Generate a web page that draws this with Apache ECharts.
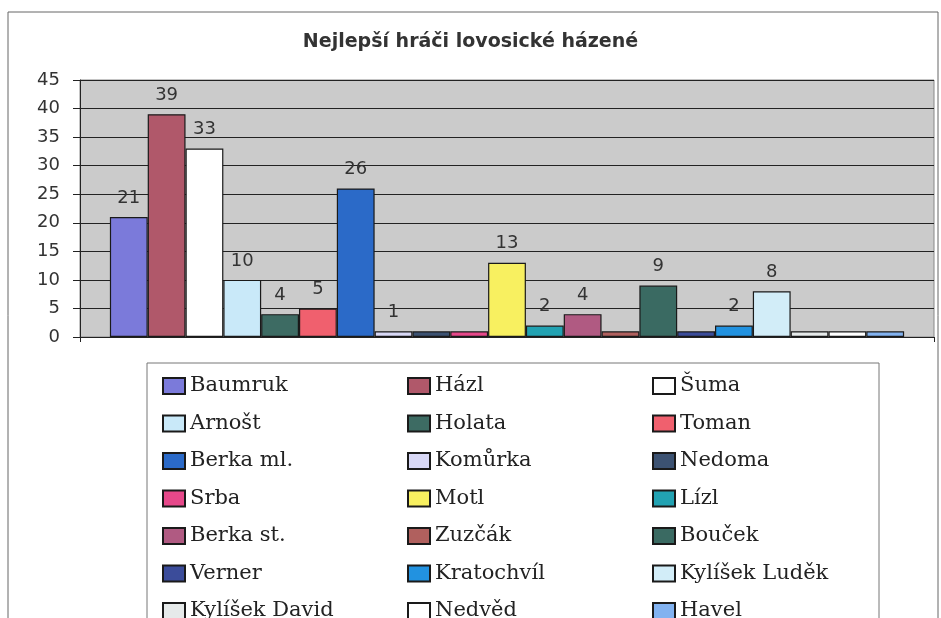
<!DOCTYPE html>
<html>
<head>
<meta charset="utf-8">
<script src="https://cdn.jsdelivr.net/npm/echarts@6/dist/echarts.min.js"></script>
<style>
  html, body { margin: 0; padding: 0; background: #fff; }
  #chart { width: 941px; height: 618px; }
</style>
</head>
<body>
<div id="chart"></div>
<script>
const players = ['Baumruk', 'Házl', 'Šuma', 'Arnošt', 'Holata', 'Toman', 'Berka ml.',
  'Komůrka', 'Nedoma', 'Srba', 'Motl', 'Lízl', 'Berka st.', 'Zuzčák', 'Bouček',
  'Verner', 'Kratochvíl', 'Kylíšek Luděk', 'Kylíšek David', 'Nedvěd', 'Havel'];
const goals = [21, 39, 33, 10, 4, 5, 26, 1, 1, 1, 13, 2, 4, 1, 9, 1, 2, 8, 1, 1, 1];
// only these bars carry a value label in the original
const labeled = ['Baumruk', 'Házl', 'Šuma', 'Arnošt', 'Holata', 'Toman', 'Berka ml.',
  'Komůrka', 'Motl', 'Lízl', 'Berka st.', 'Bouček', 'Kratochvíl', 'Kylíšek Luděk'];
const yTicks = [0, 5, 10, 15, 20, 25, 30, 35, 40, 45];

const colors = ['#7b7ada', '#b0586a', '#ffffff', '#c9e9f9', '#3d6b63', '#f0606e', '#2b6ac8',
  '#d8d8f6', '#3c5272', '#e6488a', '#f8f060', '#22a2b2', '#b05a82', '#b0605e', '#3a6a62',
  '#3b4c9a', '#2292e0', '#d2edf8', '#e6eaea', '#ffffff', '#82b2f0'];

const chart = echarts.init(document.getElementById('chart'));

const series = players.map((name, i) => ({
  name: name,
  type: 'bar',
  data: [goals[i]],
  barGap: '0%',
  barCategoryGap: '7%',
  itemStyle: { color: colors[i], borderColor: '#1a1a1a', borderWidth: 1.2 },
  label: {
    show: labeled.includes(name),
    position: 'top',
    distance: 10,
    fontSize: 18,
    fontFamily: 'DejaVu Sans',
    color: '#333'
  },
  emphasis: { disabled: true }
}));

// legend laid out in three columns, as in the original
const legendCol = (col, left) => ({
  orient: 'vertical',
  left: left,
  top: 370,
  height: 300,
  itemGap: 15.5,
  itemWidth: 22,
  itemHeight: 16,
  icon: 'rect',
  selectedMode: false,
  data: players.filter((p, i) => i % 3 === col),
  textStyle: { fontFamily: 'DejaVu Serif', fontSize: 21, lineHeight: 22, color: '#222' }
});

chart.setOption({
  backgroundColor: '#fff',
  animation: false,
  color: colors,
  title: {
    text: 'Nejlepší hráči lovosické házené',
    left: 'center',
    top: 28,
    textStyle: { fontFamily: 'DejaVu Sans', fontSize: 19, fontWeight: 'bold', color: '#333' }
  },
  legend: [legendCol(0, 157), legendCol(1, 402), legendCol(2, 647)],
  grid: {
    left: 80, right: 7, top: 80, bottom: 281,
    show: true,
    backgroundColor: '#cbcbcb',
    borderColor: '#888',
    borderWidth: 1
  },
  xAxis: {
    type: 'category',
    data: [''],
    axisLine: { lineStyle: { color: '#222' } },
    axisTick: { show: true, length: 5, lineStyle: { color: '#222' } },
    axisLabel: { show: false }
  },
  yAxis: {
    type: 'value',
    min: yTicks[0],
    max: yTicks[yTicks.length - 1],
    interval: 5,
    axisLine: { show: true, lineStyle: { color: '#222' } },
    axisTick: { show: true, length: 7, lineStyle: { color: '#222' } },
    axisLabel: { margin: 20, fontSize: 18, fontFamily: 'DejaVu Sans', color: '#333' },
    splitLine: { lineStyle: { color: '#222', width: 1 } }
  },
  graphic: [
    {
      type: 'rect',
      shape: { x: 8, y: 12, width: 930, height: 640 },
      style: { fill: null, stroke: '#666', lineWidth: 1 },
      z: -1, silent: true
    },
    {
      type: 'rect',
      shape: { x: 147, y: 363, width: 732, height: 300 },
      style: { fill: null, stroke: '#777', lineWidth: 1 },
      silent: true
    }
  ],
  series: series
});
</script>
</body>
</html>
